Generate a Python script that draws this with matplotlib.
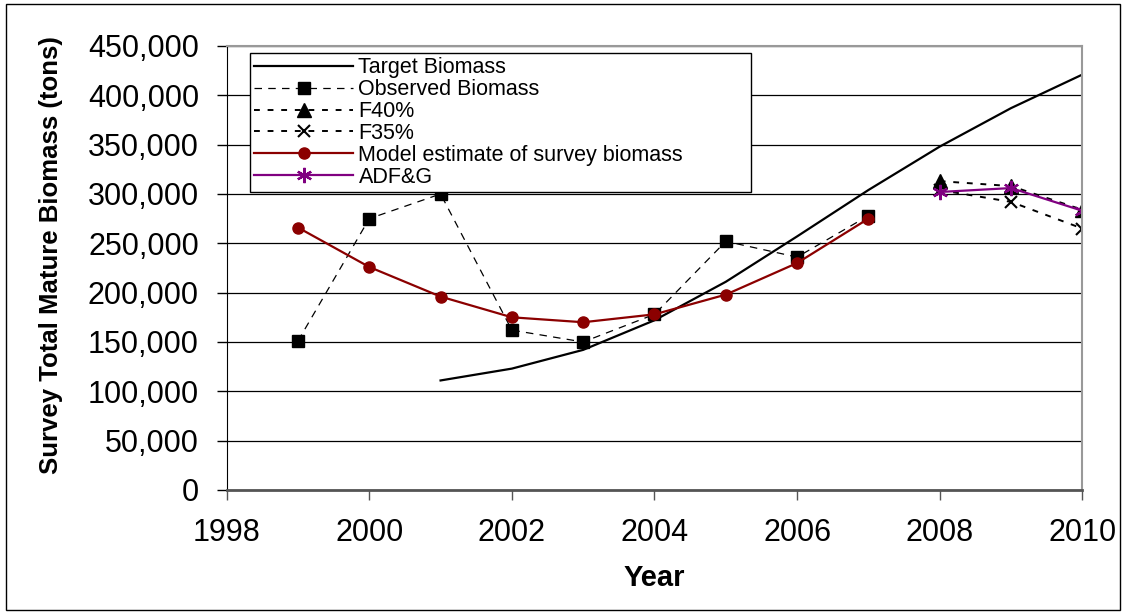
import matplotlib.pyplot as plt
from matplotlib.patches import Rectangle
from matplotlib.ticker import FuncFormatter

plt.rcParams['font.family'] = ['Liberation Sans', 'DejaVu Sans']

target_years = [2001, 2002, 2003, 2004, 2005, 2006, 2007, 2008, 2009, 2010]
target_biomass = [111000, 123000, 142000, 172000, 211000, 257000, 304000, 348000, 387000, 421000]

survey_years = [1999, 2000, 2001, 2002, 2003, 2004, 2005, 2006, 2007]
observed = [151000, 275000, 300000, 162000, 150000, 178000, 252000, 236000, 278000]
model_est = [266000, 226000, 196000, 175000, 170000, 178000, 198000, 230000, 275000]

proj_years = [2008, 2009, 2010]
f40 = [313000, 308000, 284000]
f35 = [304000, 292000, 265000]
adfg = [302000, 306000, 283000]

fig = plt.figure(figsize=(11.26, 6.13), dpi=100)
ax = fig.add_axes([0.2013, 0.2007, 0.7599, 0.7243])

ax.plot(target_years, target_biomass, color='black', lw=1.6, label='Target Biomass')
ax.plot(survey_years, observed, color='black', lw=0.9, ls=(0, (6, 5)), marker='s',
        ms=8.5, label='Observed Biomass')
ax.plot(proj_years, f40, color='black', lw=1.4, ls=(0, (3, 4)), marker='^',
        ms=9.5, label='F40%')
ax.plot(proj_years, f35, color='black', lw=1.4, ls=(0, (3, 4)), marker='x',
        ms=9, mew=1.5, label='F35%')
ax.plot(survey_years, model_est, color='#8B0000', lw=1.6, marker='o',
        ms=8, label='Model estimate of survey biomass')
ax.plot(proj_years, adfg, color='#800080', lw=1.6, marker=(6, 2, 0),
        ms=11, mew=1.6, label='ADF&G')

ax.set_xlim(1998, 2010)
ax.set_ylim(0, 450000)
ax.set_xticks(range(1998, 2011, 2))
ax.set_yticks(range(0, 450001, 50000))
ax.yaxis.set_major_formatter(FuncFormatter(lambda v, p: f'{int(v):,}'))
ax.yaxis.grid(True, color='black', lw=0.9)
ax.set_axisbelow(True)
ax.tick_params(axis='both', direction='out', labelsize=22, length=7, width=1)
ax.tick_params(axis='y', pad=13)
ax.tick_params(axis='x', pad=13, color='#555555')

for side in ['top', 'right']:
    ax.spines[side].set_color('#999999')
    ax.spines[side].set_linewidth(1.5)
ax.spines['left'].set_color('black')
ax.spines['bottom'].set_color('#555555')
ax.spines['bottom'].set_linewidth(2)

ax.set_xlabel('Year', fontsize=21, fontweight='bold', labelpad=12)
ax.set_ylabel('Survey Total Mature Biomass (tons)', fontsize=18.5, fontweight='bold')
ax.yaxis.set_label_coords(-0.191, 0.53)

leg = ax.legend(loc='upper left', bbox_to_anchor=(0.027, 0.55, 0.586, 0.434),
                mode='expand', fontsize=15.5,
                frameon=True, fancybox=False, edgecolor='black', framealpha=1,
                handlelength=4.6, handletextpad=0.25, labelspacing=0.04,
                borderpad=0.2, borderaxespad=0)
leg.get_frame().set_linewidth(1)

fig.patches.append(Rectangle((0.005, 0.005), 0.99, 0.988, transform=fig.transFigure,
                             fill=False, edgecolor='black', lw=1))

fig.savefig('out.png', dpi=100)
